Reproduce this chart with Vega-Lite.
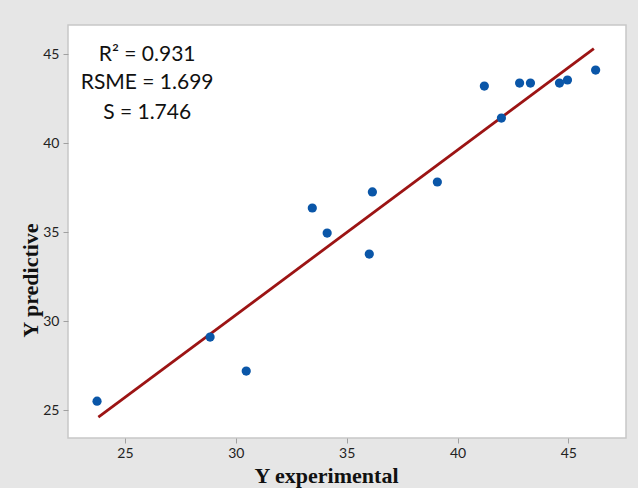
{
  "$schema": "https://vega.github.io/schema/vega-lite/v6.json",
  "width": 558,
  "height": 413,
  "autosize": {"type": "none"},
  "padding": {"left": 68, "top": 25, "right": 12, "bottom": 50},
  "background": "#e6e6e6",
  "config": {
    "view": {"fill": "white", "stroke": "#c8c8c8", "strokeWidth": 1.5},
    "axis": {
      "grid": false,
      "domain": false,
      "tickColor": "#a0a0a0",
      "tickSize": 5,
      "labelFont": "Lato",
      "labelFontSize": 14,
      "labelColor": "#222222",
      "titleFont": "Liberation Serif",
      "titleFontWeight": "bold",
      "titleFontSize": 22,
      "titleColor": "#111111"
    }
  },
  "datasets": {
    "points": [
      {"exp": 23.74, "pred": 25.5},
      {"exp": 28.84, "pred": 29.1},
      {"exp": 30.47, "pred": 27.19},
      {"exp": 33.45, "pred": 36.35},
      {"exp": 34.12, "pred": 34.94},
      {"exp": 36.02, "pred": 33.76},
      {"exp": 36.16, "pred": 37.25},
      {"exp": 39.09, "pred": 37.81},
      {"exp": 41.21, "pred": 43.2},
      {"exp": 41.98, "pred": 41.4},
      {"exp": 42.8, "pred": 43.37},
      {"exp": 43.29, "pred": 43.37},
      {"exp": 44.6, "pred": 43.37},
      {"exp": 44.96, "pred": 43.54},
      {"exp": 46.23, "pred": 44.1}
    ],
    "fit": [
      {"exp": 23.8, "pred": 24.6},
      {"exp": 46.15, "pred": 45.3}
    ],
    "notes": [
      {"exp": 26.0, "pred": 44.94, "label": "R² = 0.931"},
      {"exp": 26.0, "pred": 43.37, "label": "RSME = 1.699"},
      {"exp": 26.0, "pred": 41.69, "label": "S = 1.746"}
    ]
  },
  "encoding": {
    "x": {
      "field": "exp",
      "type": "quantitative",
      "scale": {"domain": [22.43, 47.6], "nice": false, "zero": false},
      "axis": {
        "title": "Y experimental",
        "values": [25, 30, 35, 40, 45],
        "labelPadding": 3,
        "titleX": 258,
        "titleY": 44,
        "titleBaseline": "alphabetic"
      }
    },
    "y": {
      "field": "pred",
      "type": "quantitative",
      "scale": {"domain": [23.43, 46.63], "nice": false, "zero": false},
      "axis": {
        "title": "Y predictive",
        "values": [25, 30, 35, 40, 45],
        "labelPadding": 4,
        "titleX": -31,
        "titleY": 255,
        "titleAngle": -90,
        "titleBaseline": "alphabetic"
      }
    }
  },
  "layer": [
    {
      "data": {"name": "fit"},
      "mark": {"type": "line", "color": "#9c1414", "strokeWidth": 2.8}
    },
    {
      "data": {"name": "points"},
      "mark": {"type": "circle", "color": "#0a56a8", "opacity": 1, "size": 85}
    },
    {
      "data": {"name": "notes"},
      "mark": {"type": "text", "font": "Lato", "fontSize": 21, "color": "#111111", "align": "center", "baseline": "middle"},
      "encoding": {"text": {"field": "label", "type": "nominal"}}
    }
  ]
}
